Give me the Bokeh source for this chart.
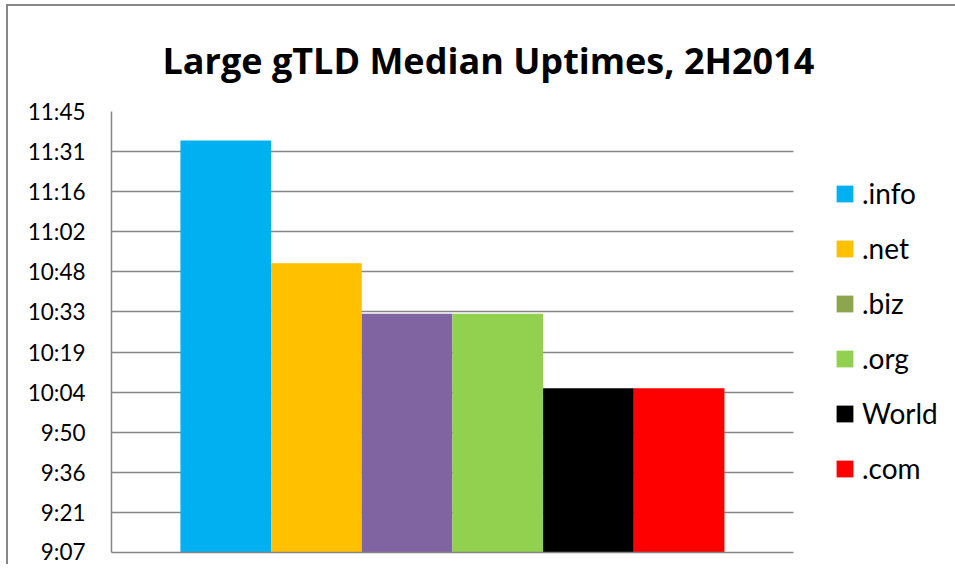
from bokeh.plotting import figure
from bokeh.models import Range1d, FixedTicker, Legend, LegendItem, ColumnDataSource
from bokeh.embed import file_html
from bokeh.resources import INLINE

# ---- data ----
categories = [".info", ".net", ".biz", ".org", "World", ".com"]
uptime_hours = [11.586, 10.851, 10.550, 10.550, 10.104, 10.104]
bar_colors = ["#00B0F0", "#FFC000", "#8064A2", "#92D050", "#000000", "#FF0000"]
legend_colors = ["#00B0F0", "#FFC000", "#8DA54E", "#92D050", "#000000", "#FF0000"]
tick_hours = [9.12, 9.36, 9.60, 9.84, 10.08, 10.32, 10.56, 10.80, 11.04, 11.28, 11.52, 11.76]
tick_labels = ["9:07", "9:21", "9:36", "9:50", "10:04", "10:19", "10:33",
               "10:48", "11:02", "11:16", "11:31", "11:45"]

GRID = "#878787"
FONT = "Lato"

n = len(categories)
plot_lo, plot_hi = -1.26, n - 1 + 1.26      # extent of the plotting area (gap on both sides)
x_end = plot_hi + 1.70                        # extra room on the right for the legend

source = ColumnDataSource(dict(
    x=list(range(n)),
    top=uptime_hours,
    color=bar_colors,
    name=categories,
))

p = figure(frame_width=836, frame_height=441, output_backend="svg", toolbar_location=None,
           x_range=Range1d(plot_lo, x_end),
           y_range=Range1d(tick_hours[0], tick_hours[-1]),
           min_border_left=103, min_border_right=8,
           min_border_top=105, min_border_bottom=12,
           title="Large gTLD Median Uptimes, 2H2014")
p.outline_line_color = None
p.background_fill_color = "white"
p.border_fill_color = "white"
# chart-area border (only left and top edges are visible in the reference)
p.styles = {"border-left": "2px solid #878787", "border-top": "2px solid #878787",
            "border-right": "none", "border-bottom": "none",
            "margin-left": "6px", "margin-top": "4px"}

p.title.text_font = "Open Sans"
p.title.text_font_style = "bold"
p.title.text_font_size = "36px"
p.title.align = "left"
p.title.offset = 51
p.title.standoff = 54
p.title.text_color = "black"

p.vbar(x="x", top="top", bottom=tick_hours[0], width=1.0, source=source,
       fill_color="color", line_color=None)

# y axis
p.yaxis.ticker = FixedTicker(ticks=tick_hours)
p.yaxis.major_label_overrides = {t: l for t, l in zip(tick_hours, tick_labels)}
p.yaxis.major_label_text_font = FONT
p.yaxis.major_label_text_font_size = "22.5px"
p.yaxis.major_label_text_color = "black"
p.yaxis.major_tick_out = 0
p.yaxis.major_tick_in = 0
p.yaxis.minor_tick_line_color = None
p.yaxis.axis_line_color = GRID
p.yaxis.axis_line_width = 1.5
p.yaxis.major_label_standoff = 26

# x axis (line only, limited to the plotting area)
p.xaxis.ticker = FixedTicker(ticks=[])
p.xaxis.bounds = (plot_lo, plot_hi)
p.xaxis.axis_line_color = GRID
p.xaxis.axis_line_width = 1.5
p.xaxis.major_tick_line_color = None
p.xaxis.minor_tick_line_color = None

p.xgrid.grid_line_color = None
p.ygrid.ticker = FixedTicker(ticks=tick_hours)
p.ygrid.cross_bounds = (plot_lo, plot_hi)
p.ygrid.grid_line_color = GRID
p.ygrid.grid_line_width = 1.5

# legend with its own swatch colours (zero-height dummy bars)
items = []
for i, (name, col) in enumerate(zip(categories, legend_colors)):
    r = p.vbar(x=[i], top=[tick_hours[0]], bottom=[tick_hours[0]], width=1,
               fill_color=col, line_color=None)
    items.append(LegendItem(label=name, renderers=[r]))

legend = Legend(items=items, location=(723, 67))
legend.glyph_width = 21
legend.glyph_height = 21
legend.label_standoff = 7
legend.label_text_font = FONT
legend.label_text_font_size = "28px"
legend.label_text_color = "black"
legend.spacing = 21
legend.padding = 0
legend.margin = 0
legend.border_line_color = None
legend.background_fill_alpha = 0
p.add_layout(legend)

open("out.html", "w").write(file_html(p, INLINE))
